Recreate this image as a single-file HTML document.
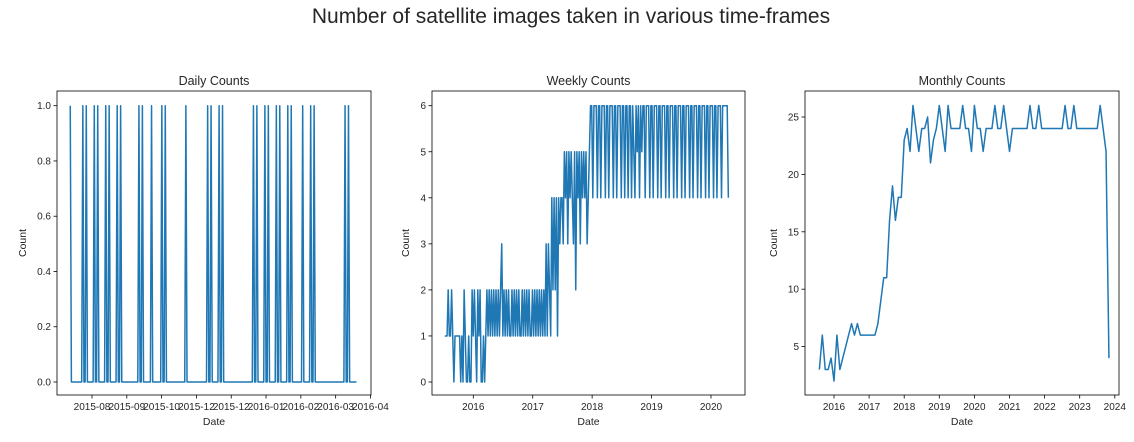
<!DOCTYPE html>
<html><head><meta charset="utf-8"><style>
body{margin:0;background:#fff;font-family:"Liberation Sans","DejaVu Sans",sans-serif;}
svg text{font-family:"Liberation Sans","DejaVu Sans",sans-serif;fill:#262626}
</style></head><body>
<svg id="fig" width="1134" height="437" viewBox="0 0 1134 437" xmlns="http://www.w3.org/2000/svg">
<rect width="1134" height="437" fill="#fff"/>
<text x="571" y="23" font-size="21" text-anchor="middle">Number of satellite images taken in various time-frames</text>
</svg>
<script>
// Daily chart data (spike days relative to 2015-08 tick)
const dailySpikeDays=[-19,-8,-5,2,5,12,15,22,25,41,44,52,61,64,82,101,104,111,114,141,144,151,154,161,164,171,174,184,191,194,221,224];
const dailyStart=-19, dailyEnd=231;
const dailyTickLabels=["2015-08","2015-09","2015-10","2015-12","2015-12","2016-01","2016-02","2016-03","2016-04"];
const dailyYTicks=[0,0.2,0.4,0.6,0.8,1.0];
// Weekly chart data
const weeklyStartYear=2015.52;
const weeklyValues=[1,1,1,2,1,1,2,1,0,1,1,1,1,1,0,1,0,2,1,0,0,1,0,0,2,1,2,1,0,2,1,2,0,0,1,0,1,2,1,2,
1,2,1,2,1,2,1,2,1,2,3,1,2,1,2,1,2,1,1,2,1,2,1,2,1,2,1,1,2,1,2,1,2,1,2,1,1,2,1,2,1,2,1,2,1,2,1,
2,1,3,1,3,2,1,4,2,4,2,4,1,4,3,4,4,3,5,4,5,3,5,4,5,4,3,5,2,5,4,5,3,5,4,5,4,5,3,4,5,
6,6,4,6,6,6,4,6,6,4,6,6,6,4,6,6,4,6,6,6,4,6,6,4,6,6,6,4,6,6,4,6,6,4,6,6,4,6,5,4,6,5,6,4,6,5,6,6,4,6,6,6,4,6,6,4,6,6,6,4,6,6,4,6,6,6,4,6,6,4,6,6,6,4,6,6,4,6,6,6,4,6,6,4,6,6,6,4,6,6,4,6,6,6,4,6,6,4,6,6,6,4,6,6,4,6,6,6,4,6,6,4,6,6,6,4,6,6,6,6,6,4];
const weeklyXTicks=[2016,2017,2018,2019,2020];
const weeklyYTicks=[0,1,2,3,4,5,6];
// Monthly chart data (starting Aug 2015)
const monthlyStartYear=2015+7/12;
const monthlyValues=[3,6,3,3,4,
2,6,3,4,5,6,7,6,7,6,6,6,
6,6,6,7,9,11,11,16,19,16,18,18,
23,24,22,26,24,22,24,24,25,21,23,24,
26,24,22,26,24,24,24,24,26,24,24,22,
26,24,24,22,24,24,24,26,24,24,26,24,
22,24,24,24,24,24,24,26,24,24,26,24,
24,24,24,24,24,24,24,26,24,24,26,24,
24,24,24,24,24,24,24,26,24,22,4];
const monthlyXTicks=[2016,2017,2018,2019,2020,2021,2022,2023,2024];
const monthlyYTicks=[5,10,15,20,25];

const NS="http://www.w3.org/2000/svg";
const svg=document.getElementById('fig');
function mk(tag,attrs,parent){const e=document.createElementNS(NS,tag);for(const k in attrs)e.setAttribute(k,attrs[k]);(parent||svg).appendChild(e);return e;}

function panel(p){
  const g=mk('g',{});
  
  
  const {L,R,T,B}=p;
  const t=mk('text',{x:(L+R)/2,y:T-6,'font-size':12.5,'text-anchor':'middle'},g);t.textContent=p.title;
  
  
  // y ticks
  p.yTicks.forEach(v=>{const y=p.ys(v);
    mk('line',{x1:L-3.5,x2:L,y1:y,y2:y,stroke:'#000','stroke-width':0.8},g);
    const tx=mk('text',{x:L-6,y:y+3.5,'font-size':10,'text-anchor':'end'},g);tx.textContent=p.yFmt(v);
    
    
  });
  p.xTicks.forEach((v,i)=>{const x=p.xs(v);
    mk('line',{x1:x,x2:x,y1:B,y2:B+3.5,stroke:'#000','stroke-width':0.8},g);
    const tx=mk('text',{x:x,y:B+15,'font-size':10,'text-anchor':'middle'},g);tx.textContent=p.xLabels[i];
    
    
  });
  const pl=mk('polyline',{points:p.pts.map(([x,y])=>p.xs(x).toFixed(2)+','+p.ys(y).toFixed(2)).join(' '),fill:'none',stroke:'#1f77b4','stroke-width':1.5,'stroke-linejoin':'round'},g);
  
  
  const fr=mk('rect',{x:L,y:T,width:R-L,height:B-T,fill:'none',stroke:'#000','stroke-width':0.8},g);
  
  
  const xl=mk('text',{x:(L+R)/2,y:B+30,'font-size':10.5,'text-anchor':'middle'},g);xl.textContent='Date';
  
  
  const yl=mk('text',{x:0,y:0,'font-size':10.5,'text-anchor':'middle',transform:`translate(${p.ylx},${(T+B)/2}) rotate(-90)`},g);yl.textContent='Count';
  
  
}

// Daily
(function(){
  const set=new Set(dailySpikeDays);const pts=[];
  for(let d=dailyStart;d<=dailyEnd;d++)pts.push([d,set.has(d)?1:0]);
  panel({name:'daily-counts-panel',title:'Daily Counts',L:57,R:371,T:91,B:395,ylx:26,
    xs:d=>92+1.145*d, ys:v=>382-276.3*v,
    xTicks:dailyTickLabels.map((_,i)=>i*30.4), xLabels:dailyTickLabels,
    yTicks:dailyYTicks, yFmt:v=>v.toFixed(1), pts});
})();
// Weekly
(function(){
  const pts=weeklyValues.map((v,i)=>[weeklyStartYear+i*7/365.25,v]);
  panel({name:'weekly-counts-panel',title:'Weekly Counts',L:432,R:745,T:91,B:395,ylx:409,
    xs:y=>473.3+(y-2016)*59.42, ys:v=>382-46.05*v,
    xTicks:weeklyXTicks, xLabels:weeklyXTicks.map(String),
    yTicks:weeklyYTicks, yFmt:v=>String(v), pts});
})();
// Monthly
(function(){
  const pts=monthlyValues.map((v,i)=>[monthlyStartYear+i/12,v]);
  panel({name:'monthly-counts-panel',title:'Monthly Counts',L:805,R:1119,T:91,B:395,ylx:777,
    xs:y=>834+(y-2016)*35.1, ys:v=>117+(25-v)*11.48,
    xTicks:monthlyXTicks, xLabels:monthlyXTicks.map(String),
    yTicks:monthlyYTicks, yFmt:v=>String(v), pts});
})();
</script>
</body></html>
